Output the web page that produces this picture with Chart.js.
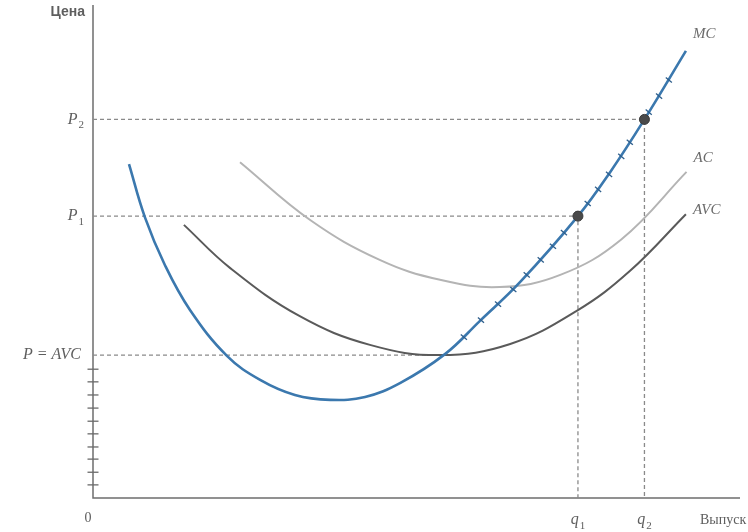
<!DOCTYPE html>
<html>
<head>
<meta charset="utf-8">
<script src="https://cdn.jsdelivr.net/npm/chart.js@4/dist/chart.umd.min.js"></script>
<style>
  html, body { margin: 0; padding: 0; background: #fff; }
</style>
</head>
<body>
<canvas id="costChart" width="748" height="532"></canvas>
<script>
// marginal cost
const mcQ    = [5.9, 8.5, 11.8, 15.9, 22.0, 27.4, 33.1, 38.9, 44.6, 50.4, 57.7, 63.4, 70.0, 79.5, 84.8, 90.4, 97.2];
const mcCost = [68.7, 57.8, 47.9, 38.7, 29.2, 24.3, 21.2, 20.2, 20.8, 23.7, 29.6, 36.4, 44.4, 58.0, 67.1, 77.9, 92.0];

// average cost
const acQ    = [24.1, 35.6, 47.0, 56.9, 66.7, 76.6, 86.6, 97.3];
const acCost = [69.1, 57.2, 49.0, 44.9, 43.4, 45.9, 53.2, 67.1];

// average variable cost
const avcQ    = [14.9, 22.5, 33.9, 45.4, 56.9, 68.4, 79.3, 88.0, 97.2];
const avcCost = [56.2, 47.3, 37.4, 31.5, 29.4, 31.7, 38.5, 46.7, 58.4];

// small cross marks along MC (supply part)
const mcMarkQ    = [60.8, 63.6, 66.4, 68.9, 71.1, 73.4, 75.4, 77.2, 81.1, 82.8, 84.6, 86.6, 88.0, 91.1, 92.8, 94.4];
const mcMarkCost = [33.1, 36.6, 39.9, 42.9, 45.9, 49.0, 51.8, 54.6, 60.6, 63.5, 66.6, 70.3, 73.2, 79.4, 82.7, 86.0];

// cross marks on the price axis below P = AVC
const axisMarks = [26.5, 23.9, 21.2, 18.5, 15.8, 13.2, 10.5, 8.0, 5.3, 2.7];

// price levels and outputs
const priceLabels = ["P2", "P1", "P = AVC"];
const prices = [77.9, 58.0, 29.4];
const outputs = [90.4, 79.5, 56.9];   // q2, q1, min AVC
const outputLabels = ["q2", "q1"];

const blue = "#3b78ae";
const dashGray = "#8a8a8a";
const textGray = "#5e5e5e";

function pts(xs, ys) {
    return xs.map((x, i) => ({ x: x, y: ys[i] }));
}

const dashed = {
    borderColor: dashGray, borderWidth: 1.3, borderDash: [4, 3],
    pointRadius: 0, showLine: true, tension: 0, order: 10, clip: false
};

const datasets = [
    Object.assign({ data: [{ x: 0, y: prices[0] }, { x: outputs[0], y: prices[0] }, { x: outputs[0], y: 0 }] }, dashed),
    Object.assign({ data: [{ x: 0, y: prices[1] }, { x: outputs[1], y: prices[1] }, { x: outputs[1], y: 0 }] }, dashed),
    Object.assign({ data: [{ x: 0, y: prices[2] }, { x: outputs[2], y: prices[2] }] }, dashed),
    {
        label: "AC", data: pts(acQ, acCost), showLine: true,
        borderColor: "#b4b4b4", borderWidth: 2, pointRadius: 0,
        tension: 0.4, order: 5
    },
    {
        label: "AVC", data: pts(avcQ, avcCost), showLine: true,
        borderColor: "#5a5a5a", borderWidth: 2, pointRadius: 0,
        tension: 0.4, order: 4
    },
    {
        label: "MC", data: pts(mcQ, mcCost), showLine: true,
        borderColor: blue, borderWidth: 2.6, pointRadius: 0,
        tension: 0.4, order: 3
    },
    {
        label: "marks", data: pts(mcMarkQ, mcMarkCost), showLine: false,
        pointStyle: "line", pointRadius: 4, pointRotation: 40,
        borderColor: "#2f5f8c", pointBorderWidth: 1.3, order: 2
    },
    {
        label: "axis marks", data: axisMarks.map(v => ({ x: 0, y: v })), showLine: false,
        pointStyle: "line", pointRadius: 5.5, borderColor: "#6a6a6a",
        pointBorderWidth: 1.3, order: 2, clip: false
    },
    {
        label: "points", data: [{ x: outputs[1], y: prices[1] }, { x: outputs[0], y: prices[0] }],
        showLine: false, pointRadius: 5, pointBackgroundColor: "#4a4a4a",
        pointBorderColor: "#3a3a3a", pointBorderWidth: 1, order: 1
    }
];

function drawSub(ctx, main, sub, x, y, align) {
    ctx.font = "italic 16px 'Liberation Serif'";
    const w1 = ctx.measureText(main).width;
    ctx.font = "11px 'Liberation Serif'";
    const w2 = sub ? ctx.measureText(sub).width + 1 : 0;
    let left = x;
    if (align === "right") left = x - w1 - w2;
    if (align === "center") left = x - (w1 + w2) / 2;
    ctx.textAlign = "left";
    ctx.textBaseline = "middle";
    ctx.font = "italic 16px 'Liberation Serif'";
    ctx.fillText(main, left, y);
    if (sub) {
        ctx.font = "11px 'Liberation Serif'";
        ctx.fillText(sub, left + w1 + 1, y + 6);
    }
}

const axesAndText = {
    id: "axesAndText",
    beforeDatasetsDraw(chart) {
        const ctx = chart.ctx;
        const xs = chart.scales.x, ys = chart.scales.y;
        const x0 = xs.getPixelForValue(0), y0 = ys.getPixelForValue(0);
        ctx.save();
        ctx.strokeStyle = "#6e6e6e";
        ctx.lineWidth = 1.5;
        ctx.beginPath();
        ctx.moveTo(x0, 5);
        ctx.lineTo(x0, y0);
        ctx.lineTo(740, y0);
        ctx.stroke();
        ctx.restore();
    },
    afterDatasetsDraw(chart) {
        const ctx = chart.ctx;
        const xs = chart.scales.x, ys = chart.scales.y;
        const x0 = xs.getPixelForValue(0), y0 = ys.getPixelForValue(0);
        ctx.save();
        ctx.fillStyle = textGray;

        // axis titles
        ctx.font = "bold 14px 'Liberation Sans Narrow', 'Liberation Sans'";
        ctx.textAlign = "right";
        ctx.textBaseline = "middle";
        ctx.fillText("Цена", x0 - 8, 12);
        ctx.font = "14px 'Liberation Serif'";
        ctx.textAlign = "left";
        ctx.fillText("Выпуск", 700, y0 + 22);
        ctx.textAlign = "center";
        ctx.fillText("0", x0 - 5, y0 + 20);

        // price labels
        drawSub(ctx, "P", "2", x0 - 9, ys.getPixelForValue(prices[0]), "right");
        drawSub(ctx, "P", "1", x0 - 9, ys.getPixelForValue(prices[1]), "right");
        drawSub(ctx, priceLabels[2], "", x0 - 12, ys.getPixelForValue(prices[2]), "right");

        // output labels
        drawSub(ctx, "q", "2", xs.getPixelForValue(outputs[0]), y0 + 22, "center");
        drawSub(ctx, "q", "1", xs.getPixelForValue(outputs[1]), y0 + 22, "center");

        // curve names
        ctx.fillStyle = "#6a6a6a";
        const ends = [
            ["MC", mcQ[mcQ.length - 1], mcCost[mcCost.length - 1], -17],
            ["AC", acQ[acQ.length - 1], acCost[acCost.length - 1], -14],
            ["AVC", avcQ[avcQ.length - 1], avcCost[avcCost.length - 1], -4]
        ];
        ends.forEach(e => {
            ctx.font = "italic 15px 'Liberation Serif'";
            ctx.textAlign = "left";
            ctx.textBaseline = "middle";
            ctx.fillText(e[0], xs.getPixelForValue(e[1]) + 7, ys.getPixelForValue(e[2]) + e[3]);
        });
        ctx.restore();
    }
};

new Chart(document.getElementById("costChart"), {
    type: "scatter",
    data: { datasets: datasets },
    options: {
        responsive: false,
        animation: false,
        layout: { padding: { left: 93, right: 45, top: 12, bottom: 34 } },
        scales: {
            x: { type: "linear", min: 0, max: 100, display: false },
            y: { type: "linear", min: 0, max: 100, display: false }
        },
        plugins: {
            legend: { display: false },
            tooltip: { enabled: false }
        }
    },
    plugins: [axesAndText]
});
</script>
</body>
</html>
